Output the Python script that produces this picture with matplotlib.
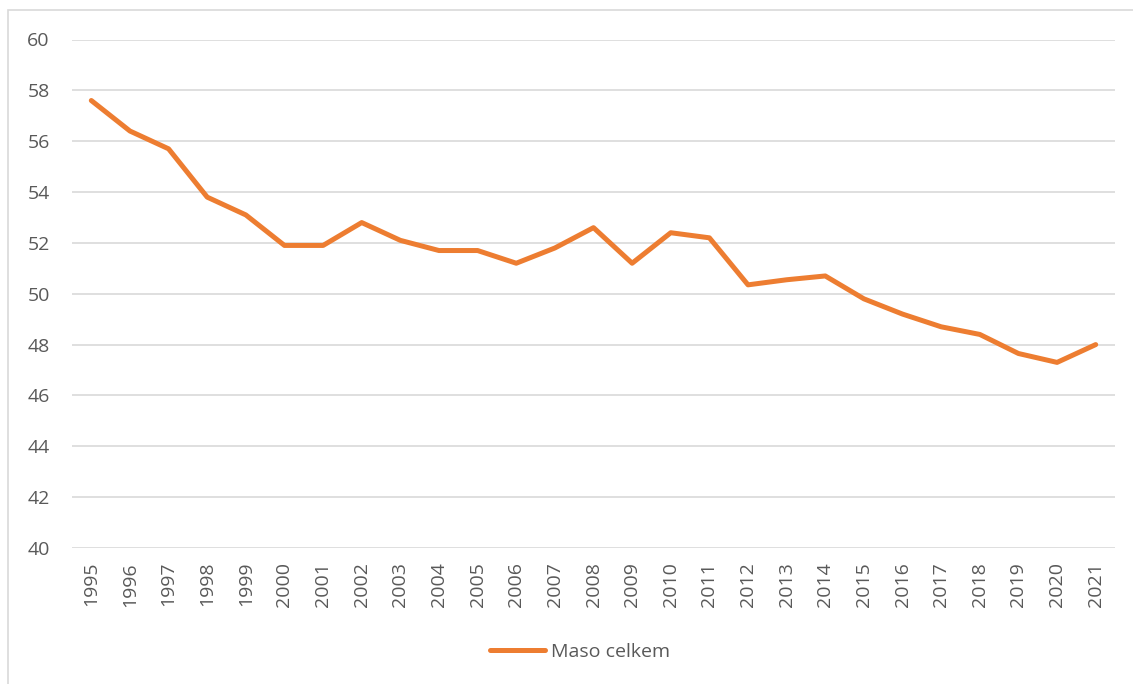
import matplotlib
matplotlib.use("Agg")
import matplotlib.pyplot as plt
from matplotlib.patches import Rectangle

years = [str(y) for y in range(1995, 2022)]
maso_celkem = [57.6, 56.4, 55.7, 53.8, 53.1, 51.9, 51.9, 52.8, 52.1, 51.7,
               51.7, 51.2, 51.8, 52.6, 51.2, 52.4, 52.2, 50.35, 50.55, 50.7,
               49.8, 49.2, 48.7, 48.4, 47.65, 47.3, 48.0]
y_ticks = [40, 42, 44, 46, 48, 50, 52, 54, 56, 58, 60]
series_label = "Maso celkem"

plt.rcParams['font.family'] = ['Open Sans', 'DejaVu Sans']
text_col = '#595959'
grid_col = '#d9d9d9'
line_col = '#ED7D31'

W, H = 1133, 684
fig = plt.figure(figsize=(W / 100, H / 100), dpi=100)
fig.patches.append(Rectangle((8 / W, -0.1), 1.2, 1 - 10 / H + 0.1, transform=fig.transFigure,
                             fill=False, edgecolor=grid_col, linewidth=1.2, zorder=0))

ax = fig.add_axes([72 / W, 1 - 548 / H, (1115 - 72) / W, (548 - 39.5) / H])
x = list(range(len(years)))
line, = ax.plot(x, maso_celkem, color=line_col, linewidth=3.6, solid_capstyle='round',
                solid_joinstyle='round', label=series_label, zorder=3)
ax.set_xlim(-0.5, len(years) - 0.5)
ax.set_ylim(40, 60)
ax.set_yticks(y_ticks)
ax.set_xticks(x)
ax.set_xticklabels(years, rotation=90)
ax.grid(axis='y', color=grid_col, linewidth=1.2)
ax.set_axisbelow(True)
for s in ax.spines.values():
    s.set_visible(False)
ax.tick_params(axis='both', length=0, colors=text_col, labelsize=14)
ax.tick_params(axis='y', pad=16)
ax.tick_params(axis='x', pad=10)

fig.legend(handles=[line], labels=[series_label], loc='center', bbox_to_anchor=(580 / W, 1 - 652 / H),
           frameon=False, fontsize=14, labelcolor=text_col, handlelength=2.8, handletextpad=0.3)

fig.savefig('out.png', dpi=100)
